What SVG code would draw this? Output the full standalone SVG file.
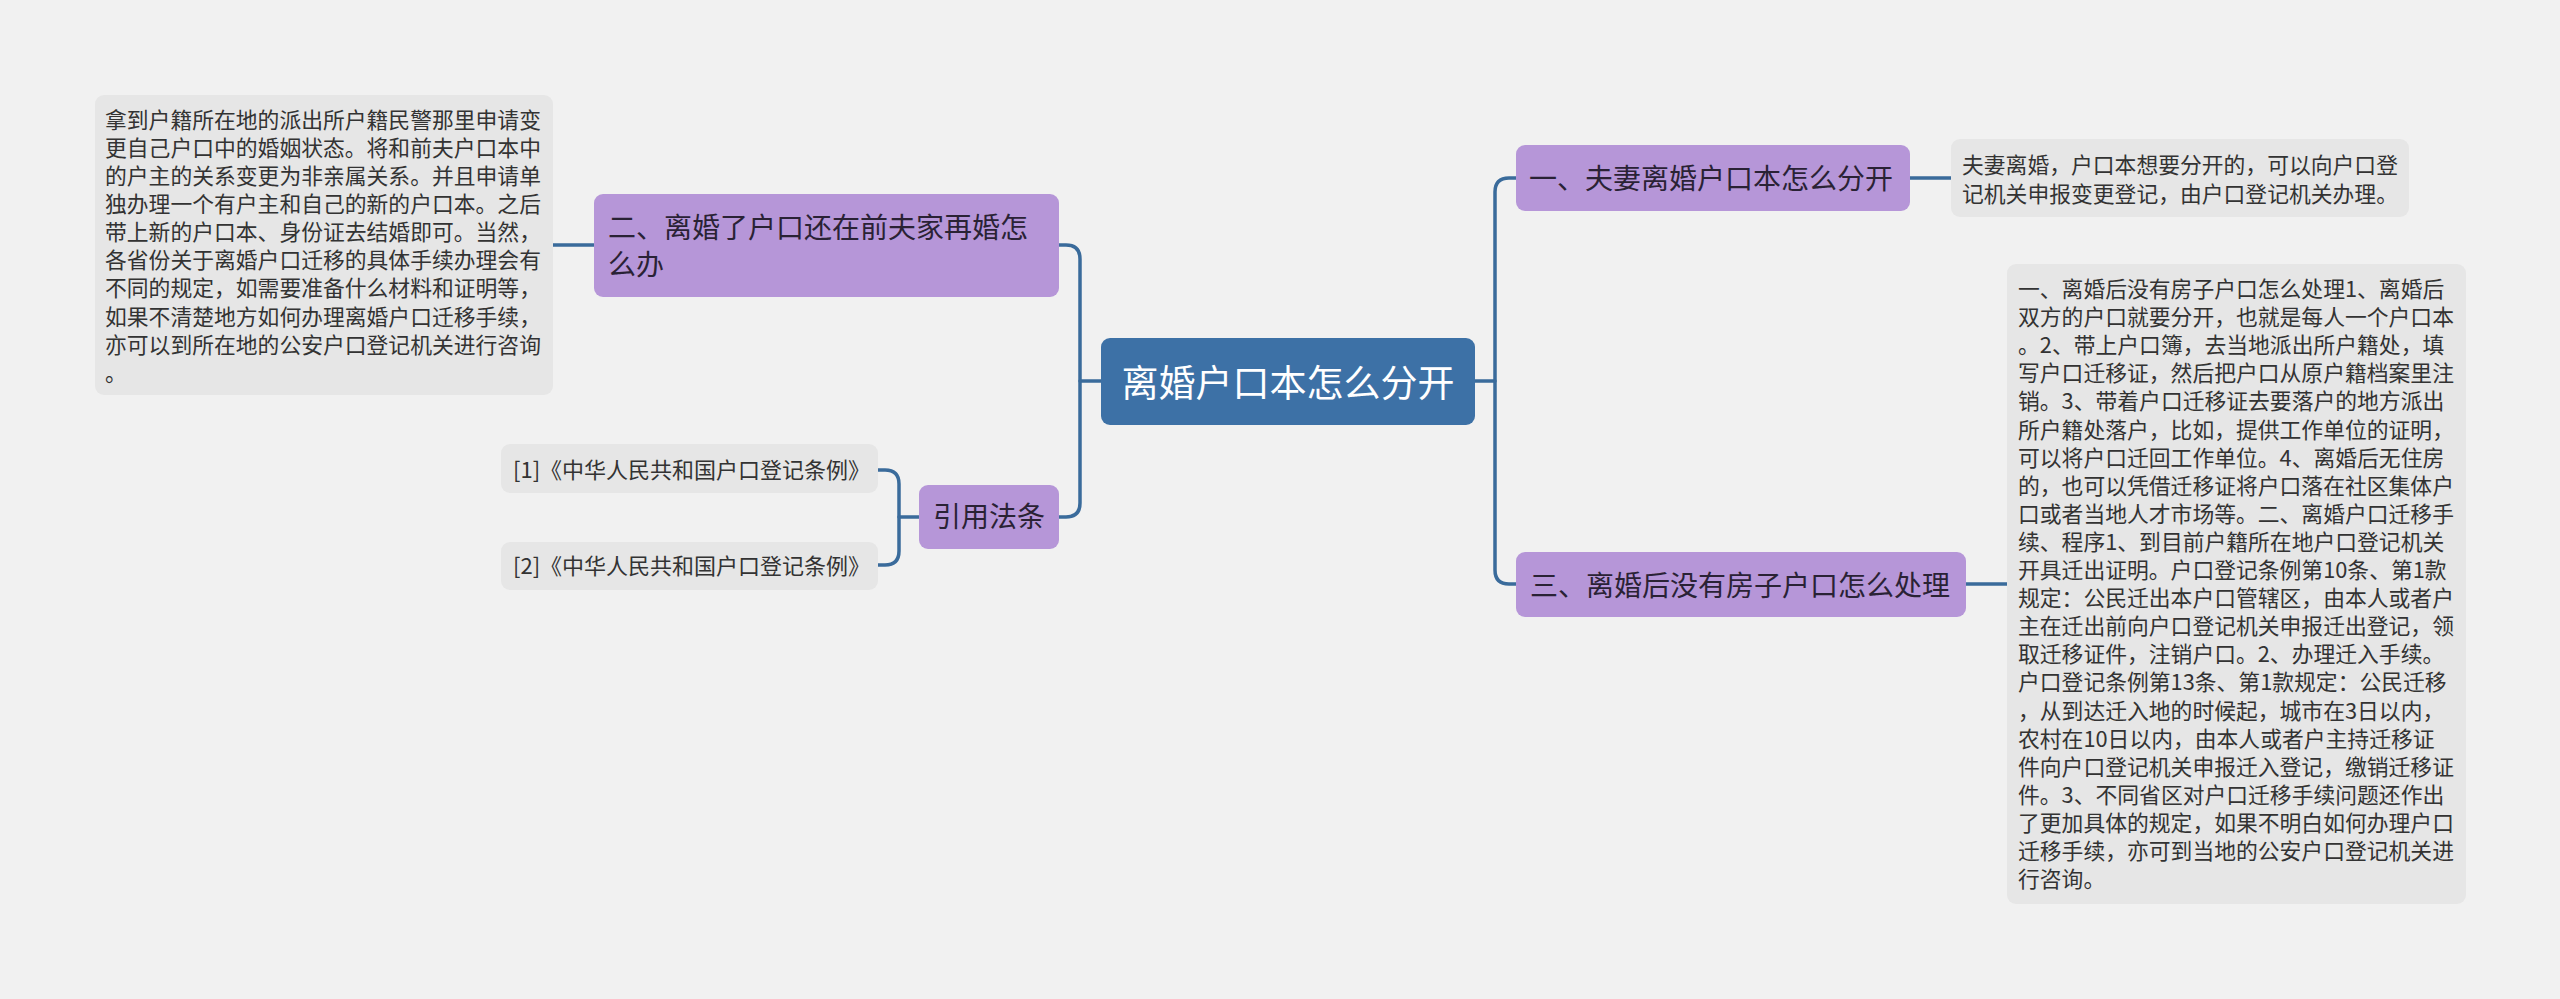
<svg xmlns="http://www.w3.org/2000/svg" width="2560" height="999" viewBox="0 0 2560 999">
<style>
.bg{fill:#f1f1f1}
.box{fill:#e6e6e6}
.topic{fill:#b696d8}
.root{fill:#3d71a6}
.t{font-family:"Noto Sans CJK SC","Noto Sans",sans-serif;fill:#333333}
.tt{font-family:"Noto Sans CJK SC","Noto Sans",sans-serif;fill:#2a2235}
.rt{font-family:"Noto Sans CJK SC","Noto Sans",sans-serif;fill:#ffffff}
.c{fill:none;stroke:#3a6b9b;stroke-width:3.5;stroke-linecap:round}
</style>
<rect class="bg" x="0" y="0" width="2560" height="999"/>
<g id="connectors">
<path class="c" d="M1101,381 H1080"/>
<path class="c" d="M1059,245 H1066 Q1080,245 1080,259 V503 Q1080,517 1066,517 H1059"/>
<path class="c" d="M594,245 H553"/>
<path class="c" d="M919,517 H899"/>
<path class="c" d="M878,470 H885 Q899,470 899,484 V551 Q899,565 885,565 H878"/>
<path class="c" d="M1475,381 H1495"/>
<path class="c" d="M1516,178 H1509 Q1495,178 1495,192 V570 Q1495,584 1509,584 H1516"/>
<path class="c" d="M1910,178 H1951"/>
<path class="c" d="M1966,584 H2007"/>
</g>
<g id="root">
<rect class="root" x="1101" y="338" width="374" height="87" rx="9"/>
<text class="rt" x="1288" y="397" font-size="37" text-anchor="middle">离婚户口本怎么分开</text>
</g>
<g id="node-er">
<rect class="topic" x="594" y="194" width="465" height="103" rx="9"/>
<text class="tt" font-size="28"><tspan x="608" y="238">二、离婚了户口还在前夫家再婚怎</tspan><tspan x="608" y="275">么办</tspan></text>
</g>
<g id="node-er-detail">
<rect class="box" x="95" y="95" width="458" height="300" rx="9"/>
<text class="t" font-size="21.8"><tspan x="105" y="128">拿到户籍所在地的派出所户籍民警那里申请变</tspan><tspan x="105" y="156">更自己户口中的婚姻状态。将和前夫户口本中</tspan><tspan x="105" y="184">的户主的关系变更为非亲属关系。并且申请单</tspan><tspan x="105" y="212">独办理一个有户主和自己的新的户口本。之后</tspan><tspan x="105" y="240">带上新的户口本、身份证去结婚即可。当然，</tspan><tspan x="105" y="268">各省份关于离婚户口迁移的具体手续办理会有</tspan><tspan x="105" y="296">不同的规定，如需要准备什么材料和证明等，</tspan><tspan x="105" y="325">如果不清楚地方如何办理离婚户口迁移手续，</tspan><tspan x="105" y="353">亦可以到所在地的公安户口登记机关进行咨询</tspan><tspan x="105" y="381">。</tspan></text>
</g>
<g id="node-cite">
<rect class="topic" x="919" y="485" width="140" height="64" rx="9"/>
<text class="tt" x="989" y="527" font-size="28" text-anchor="middle">引用法条</text>
</g>
<g id="node-cite-1">
<rect class="box" x="501" y="444" width="377" height="49" rx="9"/>
<text class="t" x="513" y="478" font-size="22">[1]《中华人民共和国户口登记条例》</text>
</g>
<g id="node-cite-2">
<rect class="box" x="501" y="542" width="377" height="48" rx="9"/>
<text class="t" x="513" y="574" font-size="22">[2]《中华人民共和国户口登记条例》</text>
</g>
<g id="node-yi">
<rect class="topic" x="1516" y="145" width="394" height="66" rx="9"/>
<text class="tt" x="1529" y="189" font-size="28">一、夫妻离婚户口本怎么分开</text>
</g>
<g id="node-yi-detail">
<rect class="box" x="1951" y="139" width="458" height="78" rx="9"/>
<text class="t" font-size="21.8"><tspan x="1962" y="173">夫妻离婚，户口本想要分开的，可以向户口登</tspan><tspan x="1962" y="202">记机关申报变更登记，由户口登记机关办理。</tspan></text>
</g>
<g id="node-san">
<rect class="topic" x="1516" y="552" width="450" height="65" rx="9"/>
<text class="tt" x="1530" y="596" font-size="28">三、离婚后没有房子户口怎么处理</text>
</g>
<g id="node-san-detail">
<rect class="box" x="2007" y="264" width="459" height="640" rx="9"/>
<text class="t" font-size="21.8"><tspan x="2018" y="297">一、离婚后没有房子户口怎么处理1、离婚后</tspan><tspan x="2018" y="325.1">双方的户口就要分开，也就是每人一个户口本</tspan><tspan x="2018" y="353.2">。2、带上户口簿，去当地派出所户籍处，填</tspan><tspan x="2018" y="381.3">写户口迁移证，然后把户口从原户籍档案里注</tspan><tspan x="2018" y="409.4">销。3、带着户口迁移证去要落户的地方派出</tspan><tspan x="2018" y="437.5">所户籍处落户，比如，提供工作单位的证明，</tspan><tspan x="2018" y="465.6">可以将户口迁回工作单位。4、离婚后无住房</tspan><tspan x="2018" y="493.7">的，也可以凭借迁移证将户口落在社区集体户</tspan><tspan x="2018" y="521.8">口或者当地人才市场等。二、离婚户口迁移手</tspan><tspan x="2018" y="549.9">续、程序1、到目前户籍所在地户口登记机关</tspan><tspan x="2018" y="578">开具迁出证明。户口登记条例第10条、第1款</tspan><tspan x="2018" y="606.1">规定：公民迁出本户口管辖区，由本人或者户</tspan><tspan x="2018" y="634.2">主在迁出前向户口登记机关申报迁出登记，领</tspan><tspan x="2018" y="662.3">取迁移证件，注销户口。2、办理迁入手续。</tspan><tspan x="2018" y="690.4">户口登记条例第13条、第1款规定：公民迁移</tspan><tspan x="2018" y="718.5">，从到达迁入地的时候起，城市在3日以内，</tspan><tspan x="2018" y="746.6">农村在10日以内，由本人或者户主持迁移证</tspan><tspan x="2018" y="774.7">件向户口登记机关申报迁入登记，缴销迁移证</tspan><tspan x="2018" y="802.8">件。3、不同省区对户口迁移手续问题还作出</tspan><tspan x="2018" y="830.9">了更加具体的规定，如果不明白如何办理户口</tspan><tspan x="2018" y="859">迁移手续，亦可到当地的公安户口登记机关进</tspan><tspan x="2018" y="887.1">行咨询。</tspan></text>
</g>
</svg>
